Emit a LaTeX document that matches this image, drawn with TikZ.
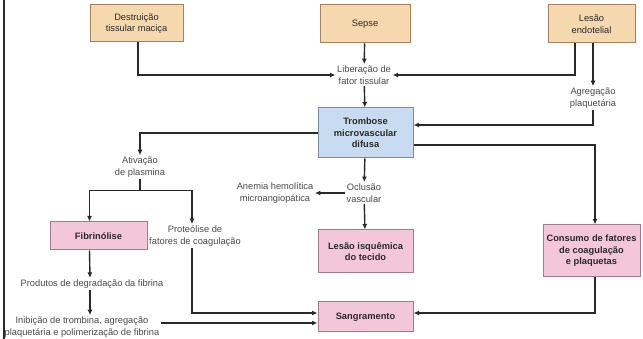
\documentclass[tikz,border=0pt]{standalone}
\usepackage{fontspec}
\setmainfont{Liberation Sans}
\usetikzlibrary{arrows.meta,calc,positioning}
\definecolor{ink}{HTML}{2A2A2A}
\definecolor{tan}{HTML}{F6D8AE}
\definecolor{tanedge}{HTML}{A9825C}
\definecolor{sky}{HTML}{C8DBF0}
\definecolor{skyedge}{HTML}{7B8DA6}
\definecolor{rose}{HTML}{F3C6D9}
\definecolor{roseedge}{HTML}{A27B8C}
\tikzset{
  basebox/.style={draw,line width=1pt,align=center,text=ink,inner sep=2pt,
    font=\fontsize{9.3}{11.5}\selectfont},
  causebox/.style={basebox,fill=tan,draw=tanedge},
  corebox/.style={basebox,fill=sky,draw=skyedge,font=\fontsize{9.3}{11.5}\selectfont\bfseries},
  effectbox/.style={basebox,fill=rose,draw=roseedge,font=\fontsize{9.3}{11.5}\selectfont\bfseries},
  label/.style={align=center,text=ink!85,inner sep=1.5pt,font=\fontsize{9.3}{11.5}\selectfont},
  arrow/.style={-{Latex[length=5.5pt,width=5pt]},line width=1.4pt,draw=ink},
  plain/.style={line width=1.4pt,draw=ink}
}
\begin{document}
\begin{tikzpicture}[x=1pt,y=1pt]
  \useasboundingbox (0,0) rectangle (643,339);
  \draw[line width=2.4pt,draw=ink] (4,0) -- (4,339);

  % causas
  \node[causebox,minimum width=93pt,minimum height=37pt] (destr) at (136.5,315.5) {Destruição\\tissular maciça};
  \node[causebox,minimum width=90pt,minimum height=38pt] (sepse) at (365,315) {Sepse};
  \node[causebox,minimum width=87pt,minimum height=38pt] (lesao) at (591.5,315) {Lesão\\endotelial};

  \node[label] (lib) at (364,264) {Liberação de\\fator tissular};
  \node[label] (agreg) at (593,241) {Agregação\\plaquetária};

  \node[corebox,minimum width=95pt,minimum height=50pt] (tromb) at (365.5,206) {Trombose\\microvascular\\difusa};

  \node[label] (ativ) at (140,172) {Ativação\\de plasmina};
  \node[label] (oclus) at (364,146) {Oclusão\\vascular};
  \node[label] (anemia) at (275,146) {Anemia hemolítica\\microangiopática};

  \node[effectbox,minimum width=95pt,minimum height=43pt] (isq) at (365.5,87.5) {Lesão isquêmica\\do tecido};
  \node[effectbox,minimum width=97pt,minimum height=52pt] (cons) at (591.5,88) {Consumo de fatores\\de coagulação\\e plaquetas};
  \node[effectbox,minimum width=97pt,minimum height=28pt] (fibr) at (98.5,103) {Fibrinólise};
  \node[label] (prot) at (195,103) {Proteólise de\\fatores de coagulação};
  \node[label] (prod) at (92,55) {Produtos de degradação da fibrina};
  \node[label] (inib) at (82,12) {Inibição de trombina, agregação\\plaquetária e polimerização de fibrina};
  \node[effectbox,minimum width=95pt,minimum height=30pt] (sangr) at (365.5,22) {Sangramento};

  % ligações
  \draw[arrow] ([xshift=1.5pt]destr.south) |- (lib.west);
  \draw[arrow] (sepse) -- (lib);
  \draw[arrow] ([xshift=-16.5pt]lesao.south) |- (lib.east);
  \draw[arrow] ([xshift=1.5pt]lesao.south) -- (agreg.north);
  \draw[arrow] (agreg.south) |- ([yshift=8pt]tromb.east);
  \draw[arrow] (lib) -- (tromb);
  \draw[arrow] (tromb.west) -| (ativ.north);
  \draw[arrow] ([yshift=-12pt]tromb.east) -| ([xshift=3.5pt]cons.north);
  \draw[arrow] (tromb) -- (oclus);
  \draw[arrow] (oclus) -- (anemia);
  \draw[arrow] (oclus) -- (isq);
  \draw[arrow] ([xshift=3.5pt]cons.south) |- ([yshift=4pt]sangr.east);

  \coordinate (split) at ($(ativ.south)+(0,-12)$);
  \draw[plain] (ativ.south) -- (split);
  \draw[arrow] (split) -| ([xshift=-9pt]fibr.north);
  \draw[arrow] (split) -| ([xshift=-3pt]prot.north);
  \draw[arrow] ([xshift=-9pt]fibr.south) -- ([xshift=-2pt]prod.north);
  \draw[arrow] ([xshift=-2pt]prod.south) -- ([xshift=8pt]inib.north);
  \draw[arrow] ([xshift=-3pt]prot.south) |- ([yshift=4pt]sangr.west);
  \draw[arrow] ([yshift=4pt]inib.east) -- ([yshift=-6pt]sangr.west);
\end{tikzpicture}
\end{document}
